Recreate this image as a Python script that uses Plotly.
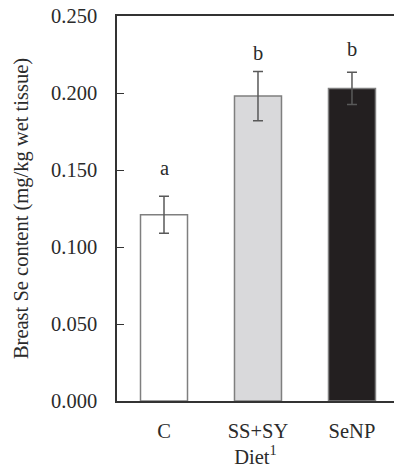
import plotly.graph_objects as go

categories = ["C", "SS+SY", "SeNP"]
values = [0.121, 0.198, 0.203]
errors = [0.012, 0.016, 0.0105]
letters = ["a", "b", "b"]
letter_y = [0.151, 0.226, 0.2285]
fill_colors = ["#ffffff", "#d9d9db", "#231f20"]
y_ticks = [0.0, 0.05, 0.10, 0.15, 0.20, 0.25]
y_ticklabels = ["0.000", "0.050", "0.100", "0.150", "0.200", "0.250"]

FONT = "Liberation Serif"
FS = 20.5
TXT = "#2b2b2b"

fig = go.Figure()
fig.add_trace(go.Bar(
    x=categories, y=values,
    marker=dict(color=fill_colors, line=dict(color="#7f7f7f", width=1.5)),
    error_y=dict(type="data", array=errors, color="#595959", thickness=1.5, width=5),
    width=0.5,
))
for c, l, ly in zip(categories, letters, letter_y):
    fig.add_annotation(x=c, y=ly, text=l, showarrow=False, yanchor="middle",
                       font=dict(family=FONT, size=FS, color=TXT))

fig.update_layout(
    width=394, height=472,
    margin=dict(l=117, r=0, t=16, b=71),
    plot_bgcolor="white", paper_bgcolor="white",
    showlegend=False,
    font=dict(family=FONT, size=FS, color=TXT),
    xaxis=dict(range=[-0.5, 2.447], showline=True, linecolor="#333333", linewidth=1.5,
               mirror=True, ticks="", showgrid=False, ticklabelstandoff=11,
               title=dict(text="Diet<sup>1</sup>", standoff=5,
                          font=dict(family=FONT, size=FS, color=TXT))),
    yaxis=dict(range=[0, 0.25], tickvals=y_ticks, ticktext=y_ticklabels,
               showline=True, linecolor="#333333", linewidth=1.5,
               ticks="inside", ticklen=7, tickcolor="#333333", tickwidth=1.2,
               showgrid=False, zeroline=False, ticklabelstandoff=14,
               title=dict(text="Breast Se content (mg/kg wet tissue)", standoff=17,
                          font=dict(family=FONT, size=FS, color=TXT))),
)
fig.write_html("out.html")
